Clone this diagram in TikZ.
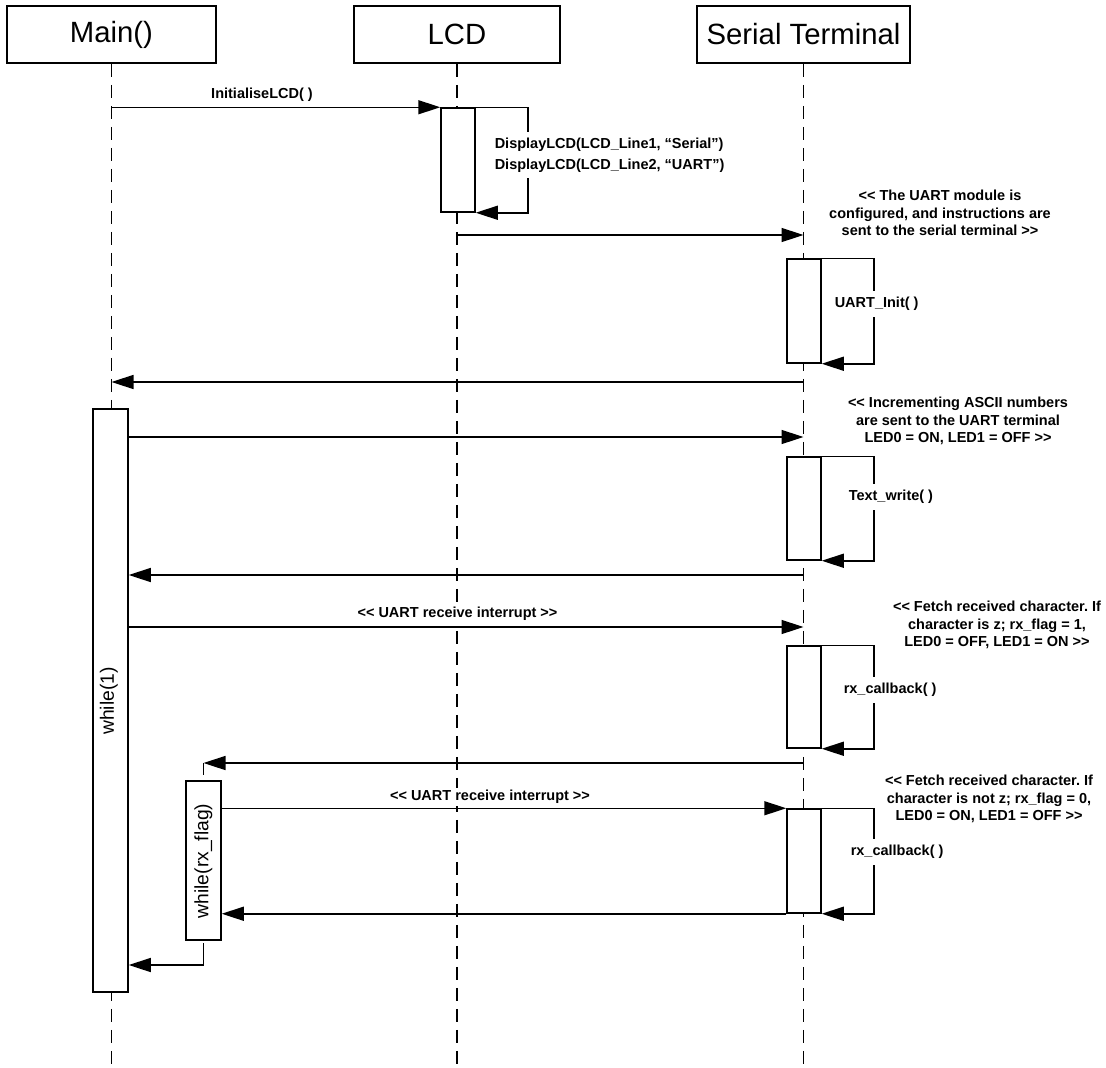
\documentclass[tikz,border=0pt]{standalone}
\usepackage{fontspec}
\setmainfont{Liberation Sans}[Ligatures=TeXOff]
\usetikzlibrary{arrows.meta}
\frenchspacing
\begin{document}
\begin{tikzpicture}[x=1pt,y=-1pt,
  line width=1.5pt,
  head/.style={draw, rectangle, inner sep=0pt, minimum height=57pt,
    font=\fontsize{29.3}{35}\selectfont},
  act/.style={draw, fill=white, rectangle, inner sep=0pt, minimum width=34pt},
  lifeline/.style={dash pattern=on 13pt off 8pt},
  msg/.style={-{Triangle[length=22pt,width=14pt]}},
  lbl/.style={font=\bfseries\fontsize{14.5}{17.5}\selectfont, fill=white,
    inner xsep=1pt, inner ysep=2pt, align=center},
  loopnote/.style={font=\bfseries\fontsize{14.5}{21}\selectfont, fill=white,
    inner xsep=0pt, inner ysep=6pt, anchor=west, align=left},
  vtext/.style={font=\fontsize{19.3}{23}\selectfont, rotate=90, inner sep=0pt}
]
\useasboundingbox (0,0) rectangle (1106,1068);

% participants
\node[head, minimum width=209pt] (main) at (111.5,34.5) {Main()};
\node[head, minimum width=206pt] (lcd) at (457,34.5) {LCD};
\node[head, minimum width=213pt] (serial) at (803.5,34.5) {Serial Terminal};

% lifelines
\coordinate (bottom) at (0,1066);
\draw[lifeline] (main.south) -- (main.south |- bottom);
\draw[lifeline] (lcd.south) -- (lcd.south |- bottom);
\draw[lifeline] (serial.south) -- (serial.south |- bottom);

% activation bars
\node[act, minimum height=104pt] (lcdact) at (458,160) {};
\node[act, minimum height=104pt] (sa1) at (804,311) {};
\node[act, minimum height=103pt] (sa2) at (804,508.5) {};
\node[act, minimum height=102pt] (sa3) at (804,697) {};
\node[act, minimum height=104pt] (sa4) at (804,861) {};
\node[act, minimum width=35pt, minimum height=583pt] (mainact) at (110.5,700.5) {};
\node[vtext] (w1) at (109,701) {while(1)};
\node[act, minimum width=35pt, minimum height=159pt] (loopbox) at (203.5,860.5) {};
\node[vtext] (w2) at (203.5,861) {while(rx\_flag)};

% messages
\draw[msg] (main.south |- lcdact.north west) -- (lcdact.north west);
\node[lbl] (l1) at (262,95) {InitialiseLCD( )};

\coordinate (y2) at (0,235);
\draw[msg] (lcd.south |- y2) -- (serial.south |- y2);
\node[lbl] (l2) at (940,213) {<< The UART module is\\configured, and instructions are\\sent to the serial terminal >>};

\coordinate (y3) at (0,382);
\draw[msg] (serial.south |- y3) -- (main.south |- y3);

\coordinate (y4) at (0,437);
\draw[msg] (mainact.east |- y4) -- (serial.south |- y4);
\node[lbl] (l4) at (958,421) {<< Incrementing ASCII numbers\\are sent to the UART terminal\\LED0 = ON, LED1 = OFF >>};

\coordinate (y5) at (0,575);
\draw[msg] (serial.south |- y5) -- (mainact.east |- y5);

\coordinate (y6) at (0,627);
\draw[msg] (mainact.east |- y6) -- (serial.south |- y6);
\node[lbl] (l6) at (457.5,614) {<< UART receive interrupt >>};
\node[lbl] (l6b) at (997,625) {<< Fetch received character. If\\character is z; rx\_flag = 1,\\LED0 = OFF, LED1 = ON >>};

\coordinate (y7) at (0,763);
\coordinate (stubtop) at (loopbox.north |- y7);
\coordinate (stubtopend) at (203.5,775);
\draw[msg] (serial.south |- y7) -- (stubtop);
\draw (stubtop) -- (stubtopend);

\draw[msg] (loopbox.east |- sa4.north west) -- (sa4.north west);
\node[lbl] (l8) at (490,797) {<< UART receive interrupt >>};
\node[lbl] (l8b) at (989,799) {<< Fetch received character. If\\character is not z; rx\_flag = 0,\\LED0 = ON, LED1 = OFF >>};

\draw[msg] (sa4.south west) -- (loopbox.east |- sa4.south west);

\coordinate (stubbot) at (203.5,943);
\coordinate (y10) at (0,965);
\draw[msg] (stubbot) -- (stubbot |- y10) -- (mainact.east |- y10);

% self calls
\draw[msg] (lcdact.north east) -- ++(52,0) |- (lcdact.south east);
\node[loopnote] (n1) at (494,155) {DisplayLCD(LCD\_Line1, “Serial”)\\DisplayLCD(LCD\_Line2, “UART”)};

\draw[msg] (sa1.north east) -- ++(52,0) |- (sa1.south east);
\node[loopnote] (n2) at (834,304) {UART\_Init( )};

\draw[msg] (sa2.north east) -- ++(52,0) |- (sa2.south east);
\node[loopnote] (n3) at (848,497) {Text\_write( )};

\draw[msg] (sa3.north east) -- ++(52,0) |- (sa3.south east);
\node[loopnote] (n4) at (843,690) {rx\_callback( )};

\draw[msg] (sa4.north east) -- ++(52,0) |- (sa4.south east);
\node[loopnote] (n5) at (850,852) {rx\_callback( )};
\end{tikzpicture}
\end{document}
